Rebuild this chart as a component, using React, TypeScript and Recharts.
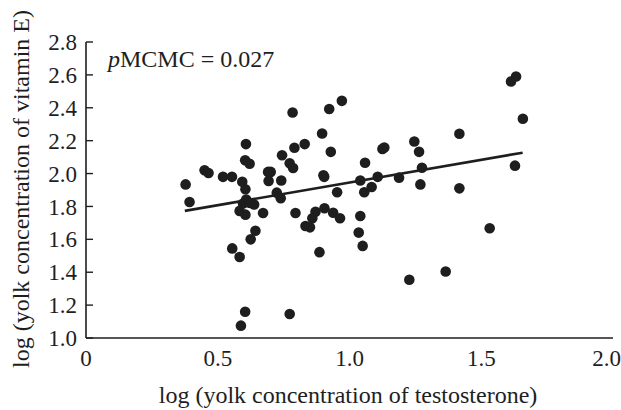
import { ScatterChart, Scatter, XAxis, YAxis } from 'recharts';

// log testosterone (x) vs log vitamin E (y)
const testosterone = [
    0.378, 0.393, 0.450, 0.465, 0.520, 0.554, 0.555, 0.583, 0.588, 0.604,
    0.593, 0.605, 0.607, 0.604, 0.621, 0.608, 0.596, 0.621, 0.583, 0.605,
    0.638, 0.625, 0.643, 0.672, 0.691, 0.701, 0.693, 0.724, 0.739, 0.744,
    0.741, 0.773, 0.784, 0.791, 0.773, 0.786, 0.795, 0.830, 0.833, 0.850,
    0.859, 0.871, 0.886, 0.896, 0.901, 0.904, 0.905, 0.923, 0.929, 0.938,
    0.953, 0.964, 0.971, 1.035, 1.041, 1.041, 1.050, 1.056, 1.059, 1.084,
    1.107, 1.125, 1.132, 1.188, 1.246, 1.264, 1.275, 1.269, 1.227, 1.365,
    1.417, 1.417, 1.532, 1.613, 1.632, 1.658, 1.628,
];
const vitaminE = [
    1.934, 1.827, 2.020, 2.003, 1.980, 1.980, 1.545, 1.493, 1.075, 1.160,
    1.950, 1.905, 2.179, 2.081, 2.060, 1.842, 1.818, 1.822, 1.773, 1.750,
    1.812, 1.600, 1.652, 1.760, 2.010, 2.010, 1.955, 1.884, 1.850, 2.111,
    1.958, 1.146, 2.371, 2.157, 2.062, 2.034, 1.760, 2.179, 1.681, 1.673,
    1.728, 1.768, 1.522, 2.244, 1.990, 1.980, 1.789, 2.393, 2.132, 1.762,
    1.886, 1.728, 2.442, 1.641, 1.958, 1.742, 1.560, 1.886, 2.066, 1.918,
    1.980, 2.150, 2.158, 1.975, 2.195, 2.132, 2.035, 1.934, 1.354, 1.404,
    2.242, 1.910, 1.667, 2.560, 2.590, 2.333, 2.048,
];

// fitted line end points
const fitX = [0.375, 1.657];
const fitY = [1.773, 2.127];

const xTicks = [0, 0.5, 1.0, 1.5, 2.0];
const yTicks = [1.0, 1.2, 1.4, 1.6, 1.8, 2.0, 2.2, 2.4, 2.6, 2.8];

const points = testosterone.map((x, i) => ({ x, y: vitaminE[i] }));
const fitLine = fitX.map((x, i) => ({ x, y: fitY[i] }));

const FONT = '"Liberation Serif", "Times New Roman", serif';
const INK = '#1e1e1e';

const fmt = (v: number) => (v === 0 ? '0' : v.toFixed(1));

function Dot(props: any) {
    const { cx, cy } = props;
    return <circle cx={cx} cy={cy} r={5.3} fill={INK} />;
}

function YTitle() {
    return (
        <text
            x={29}
            y={189}
            transform="rotate(-90 29 189)"
            textAnchor="middle"
            fontFamily={FONT}
            fontSize={24}
            fill={INK}
        >
            log (yolk concentration of vitamin E)
        </text>
    );
}

function XTitle() {
    return (
        <text x={348} y={403} textAnchor="middle" fontFamily={FONT} fontSize={24} fill={INK}>
            log (yolk concentration of testosterone)
        </text>
    );
}

export default function App() {
    return (
        <div style={{ position: 'absolute', left: 0, top: 0, width: 621, height: 410, background: '#fff' }}>
            <ScatterChart width={621} height={410} margin={{ top: 42, right: 8, left: 0, bottom: 0 }}>
                <XAxis
                    type="number"
                    dataKey="x"
                    domain={[0, 2]}
                    ticks={xTicks}
                    tickFormatter={fmt}
                    height={72}
                    tickLine={false}
                    tickSize={0}
                    tickMargin={12}
                    axisLine={{ stroke: INK, strokeWidth: 1.6 }}
                    tick={{ fontFamily: FONT, fontSize: 23, fill: INK }}
                    label={<XTitle />}
                />
                <YAxis
                    type="number"
                    dataKey="y"
                    domain={[1, 2.8]}
                    ticks={yTicks}
                    tickFormatter={fmt}
                    width={86}
                    tickSize={-7}
                    tickMargin={16}
                    axisLine={{ stroke: INK, strokeWidth: 1.6 }}
                    tickLine={{ stroke: INK, strokeWidth: 1.4 }}
                    tick={{ fontFamily: FONT, fontSize: 23, fill: INK }}
                    label={<YTitle />}
                />
                <Scatter data={points} shape={<Dot />} isAnimationActive={false} />
                <Scatter
                    data={fitLine}
                    line={{ stroke: INK, strokeWidth: 2.6 }}
                    shape={() => <g />}
                    isAnimationActive={false}
                />
            </ScatterChart>
            <div
                style={{
                    position: 'absolute',
                    left: 108,
                    top: 44,
                    fontFamily: FONT,
                    fontSize: 24,
                    color: INK,
                    lineHeight: '30px',
                    whiteSpace: 'nowrap',
                }}
            >
                <i>p</i>MCMC = 0.027
            </div>
        </div>
    );
}
